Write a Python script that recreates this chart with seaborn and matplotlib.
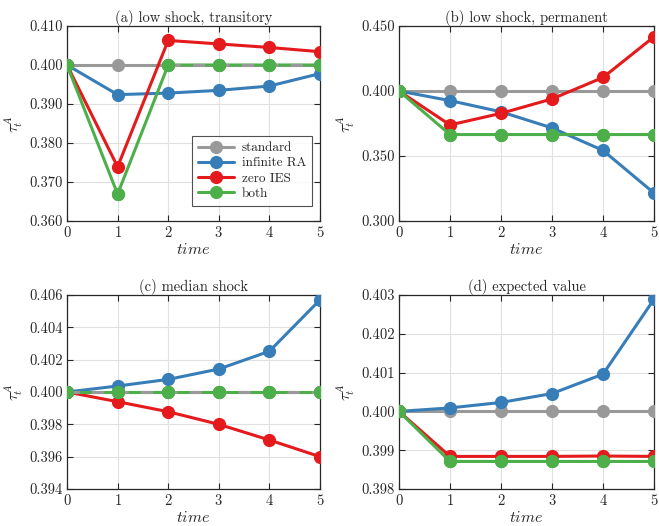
import numpy as np
import pandas as pd
import seaborn as sns
import matplotlib
matplotlib.use("Agg")
import matplotlib.pyplot as plt
from matplotlib.ticker import FormatStrFormatter

# data
time = [0, 1, 2, 3, 4, 5]
series_names = ["standard", "infinite RA", "zero IES", "both"]

a_standard = [0.400, 0.400, 0.400, 0.400, 0.400, 0.400]
a_infra = [0.400, 0.3924, 0.3928, 0.3935, 0.3946, 0.3978]
a_zeroies = [0.400, 0.3739, 0.4063, 0.4054, 0.4045, 0.4034]
a_both = [0.400, 0.3669, 0.400, 0.400, 0.400, 0.400]

b_standard = [0.400, 0.400, 0.400, 0.400, 0.400, 0.400]
b_infra = [0.400, 0.3926, 0.3840, 0.3716, 0.3543, 0.3215]
b_zeroies = [0.400, 0.3739, 0.3828, 0.3939, 0.4104, 0.4417]
b_both = [0.400, 0.3665, 0.3665, 0.3665, 0.3665, 0.3665]

c_standard = [0.400, 0.400, 0.400, 0.400, 0.400, 0.400]
c_infra = [0.400, 0.40037, 0.40078, 0.40142, 0.40252, 0.40570]
c_zeroies = [0.400, 0.3994, 0.39878, 0.3980, 0.39703, 0.3960]
c_both = [0.400, 0.400, 0.400, 0.400, 0.400, 0.400]

d_standard = [0.400, 0.400, 0.400, 0.400, 0.400, 0.400]
d_infra = [0.400, 0.40009, 0.40023, 0.40046, 0.40096, 0.40289]
d_zeroies = [0.400, 0.39884, 0.39884, 0.39884, 0.39885, 0.39884]
d_both = [0.400, 0.39871, 0.39871, 0.39871, 0.39871, 0.39871]

titles = ["(a) low shock, transitory", "(b) low shock, permanent",
          "(c) median shock", "(d) expected value"]
yticks = [np.arange(0.360, 0.4101, 0.010), np.arange(0.300, 0.4501, 0.050),
          np.arange(0.394, 0.4061, 0.002), np.arange(0.398, 0.4031, 0.001)]
ylims = [(0.360, 0.410), (0.300, 0.450), (0.394, 0.406), (0.398, 0.403)]

colors = ["#999999", "#377eb8", "#e41a1c", "#4daf4a"]

sns.set_theme(style="whitegrid")
plt.rcParams["font.family"] = ["cmr10", "DejaVu Serif"]
plt.rcParams["mathtext.fontset"] = "cm"
plt.rcParams["axes.formatter.use_mathtext"] = True
plt.rcParams["axes.unicode_minus"] = False

fig = plt.figure(figsize=(6.59, 5.26), dpi=100)
W, H = 659, 526
boxes = [(67, 26, 320, 221), (399, 26, 654, 221),
         (67, 295, 320, 489), (399, 295, 654, 489)]
axes = [fig.add_axes([l / W, 1 - b / H, (r - l) / W, (b - t) / H]) for l, t, r, b in boxes]

panels = [
    [a_standard, a_infra, a_zeroies, a_both],
    [b_standard, b_infra, b_zeroies, b_both],
    [c_standard, c_infra, c_zeroies, c_both],
    [d_standard, d_infra, d_zeroies, d_both],
]

for k, ax in enumerate(axes):
    vals = panels[k]
    for i, name in enumerate(series_names):
        sns.lineplot(x=time, y=vals[i], ax=ax, color=colors[i], marker="o",
                     markersize=9.5, markeredgewidth=0, linewidth=2.2,
                     label=name if k == 0 else None, legend=False, zorder=3 + i)
    # where "both" sits on "standard", the two colours alternate
    std = np.array(vals[0])
    both = np.array(vals[3])
    overlap = np.where(np.isclose(std, both), std, np.nan)
    ax.plot(time, overlap, color=colors[0], linewidth=2.2, dashes=(4, 4),
            dash_capstyle="butt", zorder=7)
    ax.plot(time, both, "o", color=colors[3], markersize=9.5, mew=0, zorder=8)

    ax.set_xlim(0, 5)
    ax.set_ylim(*ylims[k])
    ax.set_xticks(time)
    ax.set_yticks(yticks[k])
    ax.yaxis.set_major_formatter(FormatStrFormatter("%.3f"))
    ax.set_title(titles[k], fontsize=10.5, pad=3)
    ax.set_xlabel("$time$", fontsize=11.5, labelpad=1)
    ax.set_ylabel(r"$\tau_t^A$", fontsize=11.5, labelpad=3)
    ax.tick_params(direction="in", length=4, width=0.8, labelsize=10.5, pad=3,
                   top=True, right=True, bottom=True, left=True, color="#262626")
    ax.grid(True, color="#e0e0e0", linewidth=0.8)
    for s in ax.spines.values():
        s.set_color("#262626")
        s.set_linewidth(0.9)
    ax.set_facecolor("white")

leg = axes[0].legend(loc="lower right", fontsize=9.5, handlelength=2.7,
                     frameon=True, fancybox=False, borderpad=0.45,
                     labelspacing=0.22, handletextpad=0.6,
                     bbox_to_anchor=(0.995, 0.045))
leg.get_frame().set_edgecolor("#262626")
leg.get_frame().set_linewidth(0.8)
leg.set_zorder(20)

fig.savefig("out.png", dpi=100)
